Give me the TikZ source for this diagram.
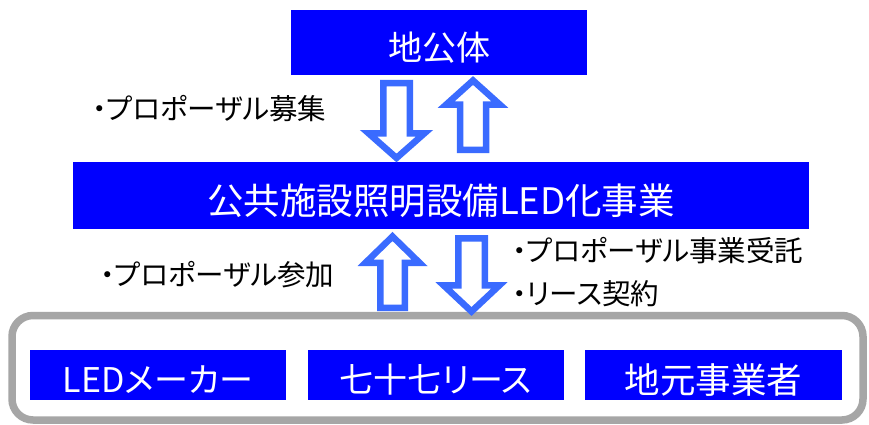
\documentclass[tikz,border=0pt]{standalone}
\usepackage{fontspec}
\setmainfont{Noto Sans CJK JP}[RawFeature=+palt]
\definecolor{boxblue}{HTML}{0000FF}
\definecolor{arrowblue}{HTML}{3A6BFF}
\definecolor{framegray}{HTML}{A6A6A6}
% block arrow: #1 name, #2 cx, #3 tip y, #4 head base y, #5 tail y, #6 head half width, #7 shaft half width
\newcommand{\blockarr}[7]{%
  \coordinate (#1) at (#2,#3);
  \draw[blockarrowline] ($(#1)+(0,0)$) -- ($(#1)+(#6,#4-#3)$) -- ($(#1)+(#7,#4-#3)$) -- ($(#1)+(#7,#5-#3)$)
    -- ($(#1)+(-#7,#5-#3)$) -- ($(#1)+(-#7,#4-#3)$) -- ($(#1)+(-#6,#4-#3)$) -- cycle;}
\usetikzlibrary{calc}
\begin{document}
\begin{tikzpicture}[x=1pt,y=-1pt,
  bluebox/.style={fill=boxblue, draw=none, inner sep=0pt, outer sep=0pt},
  boxtext/.style={text=white, inner sep=0pt, font=\fontsize{34}{40}\selectfont},
  lbl/.style={text=black, anchor=west, inner sep=0pt, font=\fontsize{28.5}{32}\selectfont},
  blockarrowline/.style={draw=arrowblue, fill=white, line width=6.5pt, line join=miter, miter limit=10},
  framebox/.style={draw=framegray, line width=7.5pt, rounded corners=21pt, inner sep=0pt, fill=white}]
\useasboundingbox (0,0) rectangle (869,425);
\fill[white] (0,0) rectangle (869,425);
% frame
\node[framebox, minimum width=851pt, minimum height=104.5pt] (frame) at (437.5,367.75) {};
% boxes
\node[bluebox, minimum width=296pt, minimum height=65pt] (top) at (439,42.5) {};
\node[boxtext] (toptext) at ($(top.center)+(0,5)$) {地公体};
\node[bluebox, minimum width=736pt, minimum height=67pt] (mid) at (441,195.5) {};
\node[boxtext, font=\fontsize{36.5}{40}\selectfont] (midtext) at ($(mid.center)+(0,5)$) {公共施設照明設備LED化事業};
\node[bluebox, minimum width=256pt, minimum height=50pt] (led) at (158,375) {};
\node[boxtext] (ledtext) at ($(led.center)+(0,5)$) {LEDメーカー};
\node[bluebox, minimum width=256pt, minimum height=50pt] (lease) at (436,375) {};
\node[boxtext] (leasetext) at ($(lease.center)+(0,5)$) {七十七リース};
\node[bluebox, minimum width=257pt, minimum height=50pt] (local) at (713.5,375) {};
\node[boxtext, font=\fontsize{35.5}{40}\selectfont] (localtext) at ($(local.center)+(0,5)$) {地元事業者};
% arrows
\blockarr{a1}{396.5}{158}{133.25}{83.25}{28}{13.25}
\blockarr{a2}{473}{80.5}{104.75}{149.75}{27}{13}
\blockarr{a3}{392.5}{236.5}{262.75}{307.75}{27}{12.25}
\blockarr{a4}{471.5}{311.5}{285.25}{238.25}{28}{13.25}
% labels
\node[lbl] (l1) at (92,109) {・プロポーザル募集};
\node[lbl] (l2) at (100,275) {・プロポーザル参加};
\node[lbl] (l3) at (512,251) {・プロポーザル事業受託};
\node[lbl] (l4) at (512,294) {・リース契約};
\end{tikzpicture}
\end{document}
